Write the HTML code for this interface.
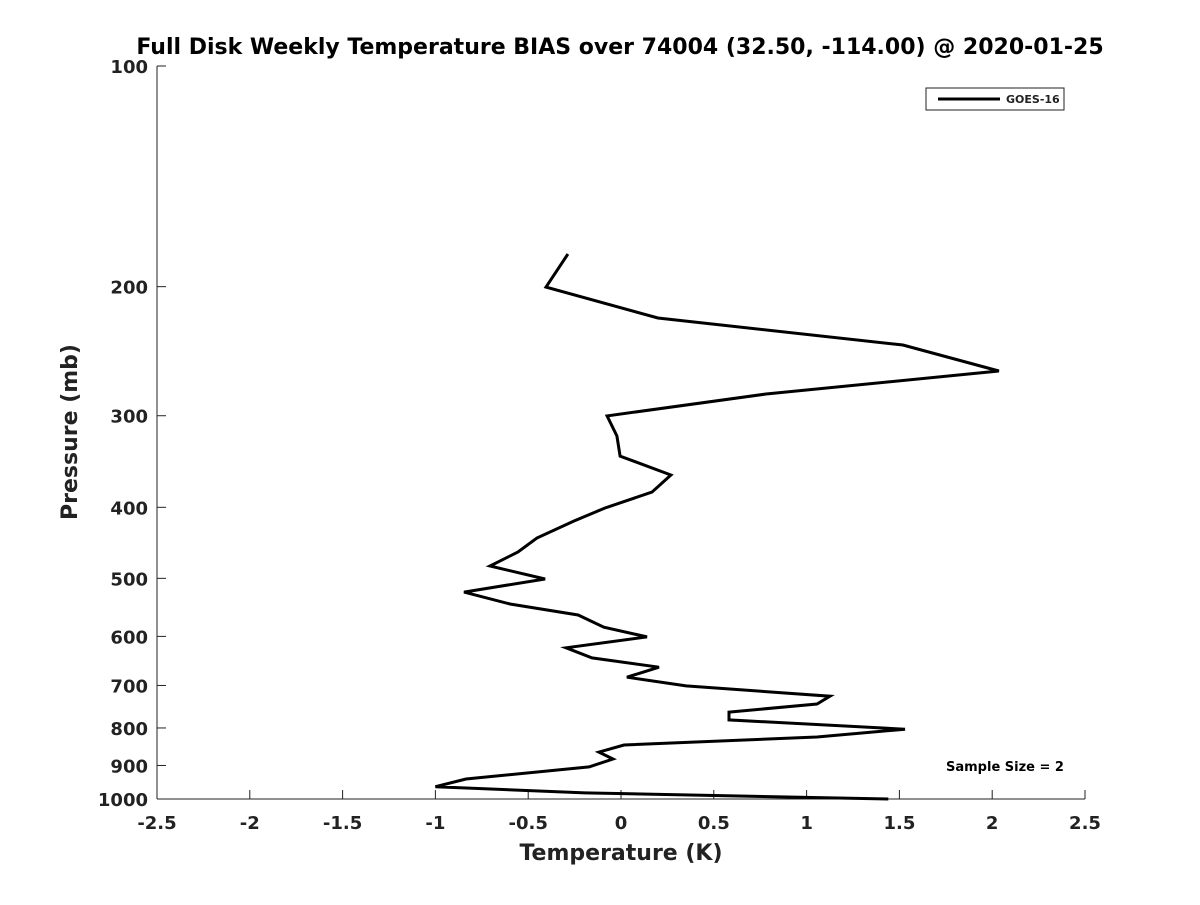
<!DOCTYPE html>
<html><head><meta charset="utf-8"><style>
body{margin:0;background:#fff}
svg text{font-family:"DejaVu Sans","Liberation Sans",sans-serif;font-weight:bold;fill:#222}
</style></head><body>
<svg id="chart" width="1200" height="900" xmlns="http://www.w3.org/2000/svg">
<rect width="1200" height="900" fill="#fff"/>
<text x="620" y="54" font-size="22" text-anchor="middle" style="fill:#000">Full Disk Weekly Temperature BIAS over 74004 (32.50, -114.00) @ 2020-01-25</text>
<g id="axes"></g>
<path id="series" fill="none" stroke="#000" stroke-width="3" stroke-linejoin="miter"/>
<rect x="926" y="88" width="138" height="22" fill="#fff" stroke="#222" stroke-width="1"/>
<line x1="938" y1="99" x2="1000" y2="99" stroke="#000" stroke-width="3"/>
<text x="1006" y="103" font-size="11">GOES-16</text>
<text x="946" y="771" font-size="13" style="fill:#000">Sample Size = 2</text>
<text x="621" y="860" font-size="22" text-anchor="middle">Temperature (K)</text>
<text transform="translate(77,432) rotate(-90)" font-size="22" text-anchor="middle">Pressure (mb)</text>
</svg>
<script>
const temps=[-0.286,-0.404,0.199,1.519,2.036,0.782,-0.075,-0.022,-0.005,0.269,0.167,-0.086,-0.253,-0.453,-0.555,-0.706,-0.409,-0.846,-0.598,-0.231,-0.092,0.140,-0.296,-0.156,0.205,0.032,0.350,1.126,1.056,0.582,0.582,1.530,1.056,0.016,-0.119,-0.043,-0.172,-0.835,-1.0,-0.194,1.440];
const pressures=[180.5,200.3,220.7,240.2,260.7,280.2,300.2,319.7,340.6,361.4,381.3,400.9,417.6,440.5,460.3,481,501,522,542,561,583,601,622,642,661,682,701,724,742,761,780,803,823,844,863,882,904,939,962,981,1000];
const xTicks=[-2.5,-2,-1.5,-1,-0.5,0,0.5,1,1.5,2,2.5];
const yTicks=[100,200,300,400,500,600,700,800,900,1000];
const L=157,R=1085,T=66,B=799;
function xs(v){return L+(v+2.5)/5*(R-L);}
function ys(p){return T+(Math.log10(p)-2)*(B-T);}
const NS="http://www.w3.org/2000/svg";
const ax=document.getElementById('axes');
function mk(tag,attrs,parent){const e=document.createElementNS(NS,tag);for(const k in attrs)e.setAttribute(k,attrs[k]);parent.appendChild(e);return e;}
const yl=mk('line',{x1:L,y1:T,x2:L,y2:B,stroke:'#222','stroke-width':1},ax);


const xl=mk('line',{x1:L,y1:B,x2:R,y2:B,stroke:'#222','stroke-width':1},ax);


xTicks.forEach(v=>{
  const x=xs(v);
  const t=mk('line',{x1:x,y1:B,x2:x,y2:B-9,stroke:'#222','stroke-width':1},ax);
  
  
  const lb=mk('text',{x:x,y:B+30,'font-size':18,'text-anchor':'middle'},ax);
  lb.textContent=String(v);
  
  
});
yTicks.forEach(p=>{
  const y=ys(p);
  const t=mk('line',{x1:L,y1:y,x2:L+9,y2:y,stroke:'#222','stroke-width':1},ax);
  
  
  const lb=mk('text',{x:L-9,y:y+7,'font-size':18,'text-anchor':'end'},ax);
  lb.textContent=String(p);
  
  
});
document.getElementById('series').setAttribute('d',temps.map((t,i)=>(i?'L':'M')+xs(t).toFixed(1)+' '+ys(pressures[i]).toFixed(1)).join(' '));
</script>
</body></html>
